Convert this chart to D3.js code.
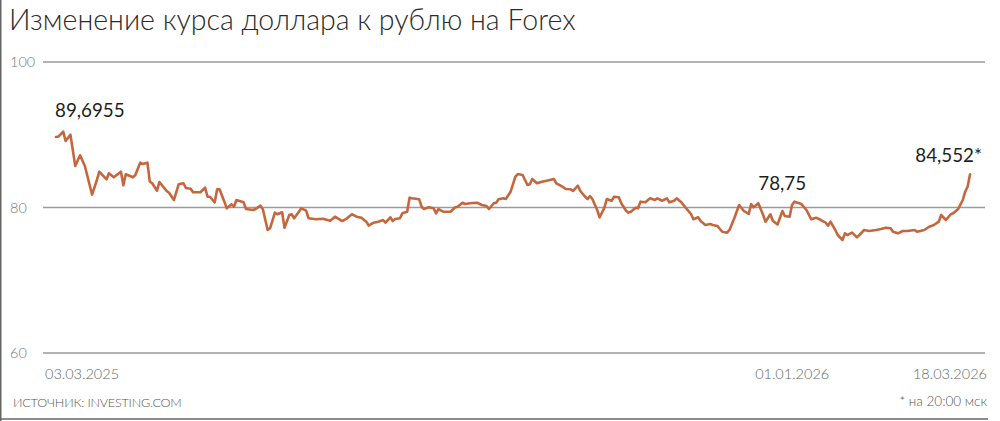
<!DOCTYPE html>
<html>
<head>
<meta charset="utf-8">
<script src="https://cdn.jsdelivr.net/npm/d3@7/dist/d3.min.js"></script>
<style>
  html, body { margin: 0; padding: 0; background: #fff; }
  svg { display: block; }
</style>
</head>
<body>
<svg id="chart" width="1000" height="421"></svg>
<script>
// ---------- data ----------
const title = "Изменение курса доллара к рублю на Forex";
const startDate = "2025-03-03";
const endDate = "2026-03-18";
// days elapsed since 03.03.2025
const dayOffsets = [0,1,3,4,6,8,10,12,15,17,18,21,22,24,27,28,29,32,33,35,36,38,39,40,42,43,46,47,49,51,53,54,56,57,60,62,63,64,66,67,68,70,71,73,74,75,78,79,82,83,85,86,88,89,91,92,94,95,97,98,99,101,102,104,105,108,111,114,116,119,121,123,125,127,129,130,132,134,136,137,139,140,141,143,144,146,147,148,151,152,153,155,157,158,159,161,164,166,167,169,170,172,175,177,179,180,182,183,184,186,187,189,191,192,194,196,197,198,200,202,204,207,208,210,212,214,215,217,218,220,221,222,223,225,226,228,229,231,232,234,235,237,238,239,241,242,243,245,247,249,250,252,254,255,257,258,260,262,264,265,267,268,270,272,273,275,277,279,280,282,284,286,288,289,290,292,294,295,297,298,300,302,303,305,306,307,309,310,312,314,316,318,320,321,322,324,325,327,328,329,331,333,334,336,338,341,343,345,347,348,350,352,354,357,358,361,363,365,367,368,370,372,373,375,377,378,379,380];
const rates = [89.70,89.75,90.42,89.14,90.01,85.70,87.18,85.70,81.76,83.78,84.92,83.88,84.70,84.15,84.92,83.05,84.56,84.15,84.47,86.16,85.98,86.16,83.55,83.33,82.31,83.51,82.27,82.03,81.03,83.19,83.33,82.68,82.58,82.09,82.09,82.72,81.48,81.48,80.71,82.50,82.50,80.80,79.89,80.44,80.11,81.03,80.71,79.79,79.66,79.79,80.25,79.75,76.91,77.14,79.29,79.07,79.34,77.22,78.97,79.07,78.52,79.42,79.89,79.56,78.52,78.38,78.46,78.19,78.74,78.14,78.52,79.07,78.74,78.60,78.05,77.50,77.91,78.05,78.28,77.91,78.65,78.14,78.42,78.52,79.20,79.42,81.35,81.26,81.13,80.11,79.79,80.03,79.89,79.20,79.79,79.42,79.42,80.03,80.11,80.66,80.48,80.58,80.66,80.34,80.21,79.79,80.58,80.66,81.13,81.26,81.17,82.17,84.23,84.60,84.47,83.09,83.19,83.92,83.33,83.55,83.68,83.92,83.33,82.96,82.54,82.50,82.27,83.00,82.27,81.48,81.17,81.58,81.17,79.66,78.65,79.97,81.17,80.93,81.48,81.40,80.58,79.56,79.29,79.42,79.97,79.89,80.80,80.71,81.26,81.03,81.26,80.93,81.26,80.71,80.93,81.26,80.71,79.89,79.11,78.38,78.65,78.14,77.59,77.73,77.59,77.46,76.67,76.54,76.91,78.52,80.34,79.52,79.11,80.48,80.03,80.58,78.97,78.05,79.07,78.19,77.66,79.52,78.83,78.74,80.34,80.80,80.58,80.44,79.66,78.38,78.60,78.28,77.91,77.50,78.05,76.91,76.22,75.53,76.45,76.22,76.54,75.90,76.22,76.91,76.77,76.91,77.04,77.22,77.14,76.67,76.45,76.77,76.77,76.91,76.67,76.91,77.36,77.59,78.05,78.97,78.28,79.07,79.20,79.75,81.03,82.17,82.86,84.55];
const yTicks = [60, 80, 100];
const xTickDates = ["2025-03-03", "2026-01-01", "2026-03-18"];
const xTickLabels = ["03.03.2025", "01.01.2026", "18.03.2026"];
const callouts = [
  { date: "2025-03-03", text: "89,6955" },
  { date: "2026-01-01", text: "78,75" },
  { date: "2026-03-18", text: "84,552*" }
];
const sourceText = "ИСТОЧНИК: INVESTING.COM";
const noteText = "* на 20:00 мск";

// ---------- drawing ----------
const svg = d3.select("#chart");
const parse = d3.utcParse("%Y-%m-%d");
const t0 = parse(startDate);
const series = dayOffsets.map((d, i) => ({ date: d3.utcDay.offset(t0, d), value: rates[i] }));

const x = d3.scaleUtc().domain([t0, parse(endDate)]).range([56, 970]);
const y = d3.scaleLinear().domain([60, 100]).range([353, 62]);
const gridX0 = 43, gridX1 = 985;

// frame (left and bottom edges)
svg.append("line").attr("x1", 0.75).attr("x2", 0.75).attr("y1", 0).attr("y2", 421)
  .attr("stroke", "#666").attr("stroke-width", 1.5);
svg.append("line").attr("x1", 0).attr("x2", 988).attr("y1", 419).attr("y2", 419)
  .attr("stroke", "#666").attr("stroke-width", 1.5);

// title
svg.append("text").attr("x", 9).attr("y", 30)
  .attr("font-family", "Lato, 'Open Sans', sans-serif").attr("font-weight", 300)
  .attr("font-size", 28.5).attr("fill", "#2b2b2b").text(title);

// y grid + labels
const yAxis = svg.append("g");
yAxis.selectAll("line").data(yTicks).join("line")
  .attr("x1", gridX0).attr("x2", gridX1)
  .attr("y1", d => y(d)).attr("y2", d => y(d))
  .attr("stroke", "#9a9a9a").attr("stroke-width", 1.4);
yAxis.selectAll("text").data(yTicks).join("text")
  .attr("x", 10).attr("y", d => y(d)).attr("dy", "0.35em")
  .attr("font-family", "Lato, sans-serif").attr("font-weight", 300)
  .attr("font-size", 14.5).attr("fill", "#777").text(d => d);

// line
const line = d3.line().x(d => x(d.date)).y(d => y(d.value)).curve(d3.curveLinear);
svg.append("path").datum(series)
  .attr("d", line).attr("fill", "none")
  .attr("stroke", "#c4673f").attr("stroke-width", 2.6)
  .attr("stroke-linejoin", "round").attr("stroke-linecap", "round");

// x labels
const xl = svg.append("g").attr("font-family", "Lato, sans-serif").attr("font-weight", 300)
  .attr("font-size", 14.5).attr("fill", "#666");
xTickDates.forEach((ds, i) => {
  const px = x(parse(ds));
  let anchor = "middle", tx = px + 5;
  if (i === 0) { anchor = "start"; tx = gridX0 + 2; }
  if (i === xTickDates.length - 1) { anchor = "end"; tx = gridX1 + 2; }
  xl.append("text").attr("x", tx).attr("y", 379).attr("text-anchor", anchor).text(xTickLabels[i]);
});

// callouts
const co = svg.append("g").attr("font-family", "Lato, sans-serif")
  .attr("font-size", 18.8).attr("fill", "#1e1e1e");
co.append("text").attr("x", x(parse(callouts[0].date)) - 1).attr("y", 117)
  .attr("text-anchor", "start").text(callouts[0].text);
co.append("text").attr("x", x(parse(callouts[1].date)) - 5).attr("y", 190)
  .attr("text-anchor", "middle").text(callouts[1].text);
co.append("text").attr("x", x(parse(callouts[2].date)) + 12).attr("y", 162)
  .attr("text-anchor", "end").text(callouts[2].text);

// footer
svg.append("text").attr("x", 13).attr("y", 407)
  .attr("font-family", "Lato, sans-serif").attr("font-weight", 300)
  .attr("font-size", 12.6).attr("fill", "#555").attr("letter-spacing", -0.2).text(sourceText);
svg.append("text").attr("x", 987).attr("y", 406).attr("text-anchor", "end")
  .attr("font-family", "Lato, sans-serif").attr("font-weight", 300)
  .attr("font-size", 13.5).attr("fill", "#555").text(noteText);
</script>
</body>
</html>
